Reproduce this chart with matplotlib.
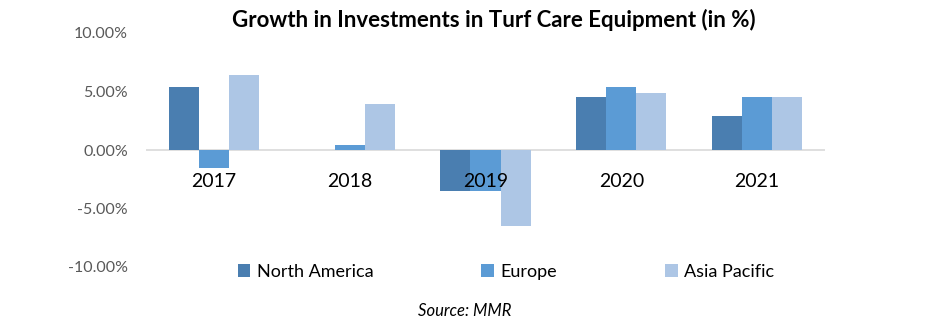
import matplotlib
matplotlib.use("Agg")
import matplotlib.pyplot as plt
import numpy as np

plt.rcParams['font.family'] = ['Lato', 'DejaVu Sans']

years = ["2017", "2018", "2019", "2020", "2021"]
north_america = [5.4, 0.0, -3.5, 4.5, 2.9]
europe = [-1.5, 0.4, -3.5, 5.4, 4.5]
asia_pacific = [6.4, 3.9, -6.5, 4.9, 4.5]
series_names = ["North America", "Europe", "Asia Pacific"]
colors = ["#4a7eb0", "#5b9bd5", "#adc6e5"]

fig = plt.figure(figsize=(9.41, 3.25), dpi=100)
ax = fig.add_axes([146 / 941, 58 / 325, (825 - 146) / 941, (267 - 33) / 325])

x = np.arange(len(years))
w = 0.221
for i, (vals, name) in enumerate(zip([north_america, europe, asia_pacific], series_names)):
    ax.bar(x + (i - 1) * w, vals, width=w, color=colors[i], label=name, zorder=2)

ax.axhline(0, color="#d9d9d9", lw=1.2, zorder=1)
ax.set_xlim(-0.5, len(years) - 0.5)
ax.set_ylim(-10, 10)
ax.set_yticks([-10, -5, 0, 5, 10])
ax.set_yticklabels(["{:.2f}%".format(v) for v in [-10, -5, 0, 5, 10]])
ax.tick_params(axis="y", length=0, pad=13, labelsize=11.5, labelcolor="#595959")
ax.set_xticks([])
for s in ax.spines.values():
    s.set_visible(False)

# category labels sit just under the zero line
for xi, yr in zip(x, years):
    ax.annotate(yr, (xi, 0), xytext=(0, -23), textcoords="offset points",
                ha="center", va="center", fontsize=14, color="black", zorder=3)

fig.text(494 / 941, 0.938, "Growth in Investments in Turf Care Equipment (in %)",
         ha="center", va="center", fontsize=16, fontweight="bold")

fig.legend(loc="center", bbox_to_anchor=(506 / 941, 1 - 272 / 325), ncol=3,
           frameon=False, fontsize=13, handlelength=0.7, handleheight=0.7,
           handletextpad=0.35, columnspacing=6.0)

fig.text(465 / 941, 1 - 311 / 325, "Source: MMR", ha="center", va="center",
         fontsize=12, style="italic")

fig.savefig("out.png", dpi=100)
